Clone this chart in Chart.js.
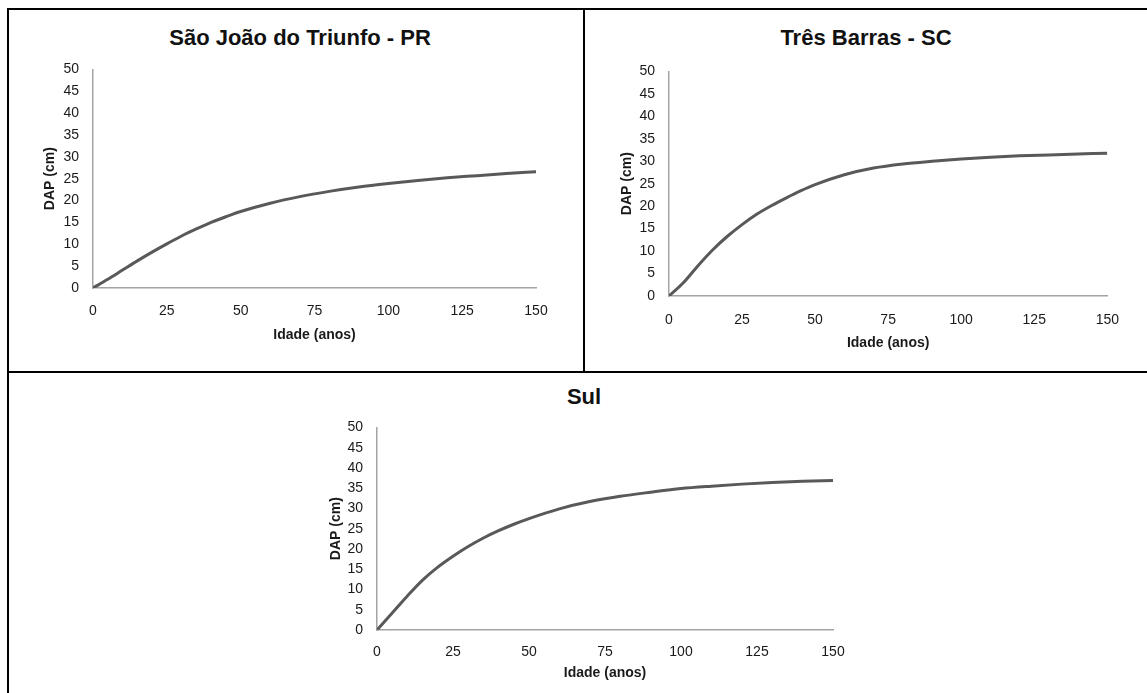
<!DOCTYPE html>
<html lang="pt">
<head>
<meta charset="utf-8">
<title>DAP por idade</title>
<script src="https://cdn.jsdelivr.net/npm/chart.js@4.4.1/dist/chart.umd.min.js"></script>
<style>
  html, body { margin: 0; padding: 0; background: #fff; }
  body { width: 1147px; height: 693px; position: relative; overflow: hidden; font-family: Arial, "Liberation Sans", sans-serif; }
  .rule { position: absolute; background: #000; }
  .titulo { position: absolute; font-weight: bold; font-size: 22px; line-height: 22px; color: #111; white-space: nowrap; transform: translateX(-50%); }
  canvas { position: absolute; }
</style>
</head>
<body>
<!-- linhas da tabela -->
<div class="rule" style="left:7px; top:8px; right:0; height:2px;"></div>
<div class="rule" style="left:7px; top:8px; width:2px; bottom:0;"></div>
<div class="rule" style="left:583px; top:8px; width:2px; height:364px;"></div>
<div class="rule" style="left:7px; top:371px; right:0; height:2px;"></div>

<div class="titulo" style="left:300px; top:27px;">São João do Triunfo - PR</div>
<div class="titulo" style="left:866px; top:27px;">Três Barras - SC</div>
<div class="titulo" style="left:584px; top:386px;">Sul</div>

<canvas id="chartPR" width="555" height="308" style="left:15px; top:47px;"></canvas>
<canvas id="chartSC" width="545" height="309" style="left:590px; top:49px;"></canvas>
<canvas id="chartSul" width="570" height="285" style="left:290px; top:405px;"></canvas>

<script>
// idade (anos)
const idades = [0, 5, 10, 15, 20, 25, 30, 35, 40, 45, 50, 60, 70, 80, 90, 100, 110, 120, 130, 140, 150];

// DAP (cm) estimado
const dapSaoJoao = [0, 2.0, 4.1, 6.2, 8.2, 10.1, 11.9, 13.5, 15.0, 16.3, 17.5, 19.4, 20.9, 22.1, 23.1, 23.9, 24.6, 25.2, 25.7, 26.2, 26.6];
const dapTresBarras = [0, 3.0, 6.8, 10.3, 13.3, 15.9, 18.2, 20.1, 21.8, 23.4, 24.8, 27.0, 28.5, 29.4, 30.0, 30.5, 30.9, 31.2, 31.4, 31.6, 31.8];
const dapSul = [0, 4.2, 8.4, 12.3, 15.5, 18.2, 20.6, 22.7, 24.5, 26.1, 27.5, 29.9, 31.7, 33.0, 34.0, 34.9, 35.5, 36.0, 36.4, 36.7, 36.9];

// eixos
const xTicks = [0, 25, 50, 75, 100, 125, 150];
const yTicks = [0, 5, 10, 15, 20, 25, 30, 35, 40, 45, 50];

Chart.defaults.font.family = 'Arial, "Liberation Sans", sans-serif';
Chart.defaults.color = '#1a1a1a';

// caixa = canvas na página; area = área do gráfico e centro dos títulos dos eixos
function criaGrafico(id, valores, caixa, area) {
  const pontos = idades.map((x, i) => ({ x: x, y: valores[i] }));
  const eixo = { color: '#a3a3a3', width: 1.5 };
  return new Chart(document.getElementById(id), {
    type: 'line',
    data: {
      datasets: [{
        data: pontos,
        borderColor: '#595959',
        borderWidth: 3,
        pointRadius: 0,
        cubicInterpolationMode: 'monotone',
        fill: false
      }]
    },
    options: {
      responsive: false,
      animation: false,
      events: [],
      layout: {
        padding: { left: 0, top: area.top - caixa.top, right: caixa.left + caixa.width - area.right, bottom: 0 }
      },
      plugins: { legend: { display: false }, tooltip: { enabled: false } },
      scales: {
        x: {
          type: 'linear',
          min: xTicks[0],
          max: xTicks[xTicks.length - 1],
          afterBuildTicks: s => { s.ticks = xTicks.map(v => ({ value: v })); },
          afterFit: s => { s.height = caixa.top + caixa.height - area.bottom; },
          grid: { display: false, drawTicks: false },
          border: eixo,
          ticks: { padding: area.xPad, font: { size: 14 }, maxRotation: 0, autoSkip: false },
          title: {
            display: true,
            text: 'Idade (anos)',
            font: { size: 14, weight: 'bold' },
            padding: { top: 0, bottom: caixa.top + caixa.height - area.tituloY - 8.4 }
          }
        },
        y: {
          min: yTicks[0],
          max: yTicks[yTicks.length - 1],
          afterBuildTicks: s => { s.ticks = yTicks.map(v => ({ value: v })); },
          afterFit: s => { s.width = area.left - caixa.left; },
          grid: { display: false, drawTicks: false },
          border: eixo,
          ticks: { padding: 14, font: { size: 14 }, autoSkip: false },
          title: {
            display: true,
            text: 'DAP (cm)',
            font: { size: 14, weight: 'bold' },
            padding: { top: area.tituloX - caixa.left - 8.4, bottom: 0 }
          }
        }
      }
    }
  });
}

criaGrafico('chartPR', dapSaoJoao,
  { left: 15, top: 47, width: 555, height: 308 },
  { left: 93, right: 536, top: 69, bottom: 288, xPad: 15, tituloX: 50, tituloY: 335 });

criaGrafico('chartSC', dapTresBarras,
  { left: 590, top: 49, width: 545, height: 309 },
  { left: 669, right: 1108, top: 71, bottom: 296, xPad: 16, tituloX: 627, tituloY: 343 });

criaGrafico('chartSul', dapSul,
  { left: 290, top: 405, width: 570, height: 285 },
  { left: 377, right: 833, top: 427, bottom: 630, xPad: 14, tituloX: 336, tituloY: 673 });
</script>
</body>
</html>
